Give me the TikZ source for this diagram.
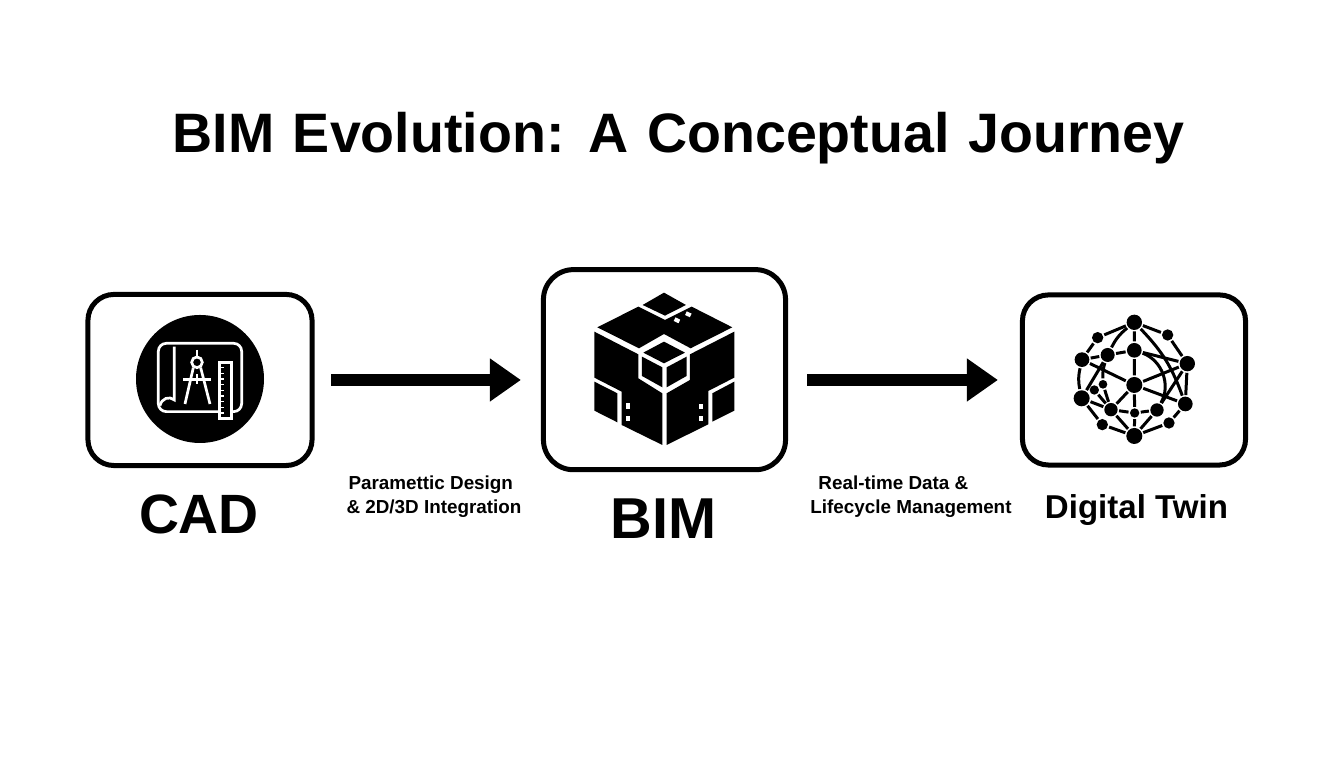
\documentclass[tikz,border=0pt]{standalone}
\usepackage{fontspec}
\setmainfont{Liberation Sans}
\usetikzlibrary{arrows.meta,positioning}
\newcommand{\titlefont}{\bfseries\fontsize{15.8}{18}\selectfont\spaceskip 5.3pt\relax}
\begin{document}
\begin{tikzpicture}[x=0.01cm, y=-0.01cm]
        \tikzstyle{stagebox}=[draw, line width=0.05cm, rounded corners=0.26cm, inner sep=0pt]
        \tikzstyle{flowarrow}=[line width=0.125cm, -{Triangle[length=0.31cm, width=0.41cm]}]
        \tikzstyle{sublabel}=[font=\bfseries\fontsize{5.36}{6.8}\selectfont, align=left, inner sep=0pt]
        \tikzstyle{stagelabel}=[anchor=base, inner sep=0pt]
        \tikzstyle{netnode}=[circle, fill=black, inner sep=0pt, outer sep=0.015cm]
        \tikzstyle{netedge}=[line width=0.03cm]
        \tikzstyle{iconline}=[white, line width=0.027cm]
        \useasboundingbox (0,0) rectangle (1344,768);
        % Title
        \node[stagelabel, font=\titlefont] (title) at (678.5,152.3) {BIM Evolution: A Conceptual Journey};
        % Stages
        \node[stagebox, minimum width=2.24cm, minimum height=1.71cm] (cad) at (200,380) {};
        \node[stagebox, minimum width=2.42cm, minimum height=2.00cm, rounded corners=0.3cm] (bim) at (664.5,369.7) {};
        \node[stagebox, minimum width=2.23cm, minimum height=1.70cm] (twin) at (1134,380) {};
        \node[stagelabel, font=\bfseries\fontsize{15.75}{18}\selectfont] (cadlabel) at (199,533.3) {CAD};
        \node[stagelabel, font=\bfseries\fontsize{16.4}{18}\selectfont] (bimlabel) at (663.5,538.3) {BIM};
        \node[stagelabel, font=\bfseries\fontsize{9.4}{12}\selectfont] (twinlabel) at (1136.5,518.3) {Digital Twin};
        % Arrows
        \draw[flowarrow, shorten <=0.165cm, shorten >=0.2cm] (cad.east) -- (cad.east -| bim.west);
        \draw[flowarrow, shorten <=0.19cm, shorten >=0.22cm] (twin.west -| bim.east) -- (twin.west);
        \node[sublabel] (paramlabel) at (434,497) {\hspace*{0.02cm}Paramettic Design\\\& 2D/3D Integration};
        \node[sublabel] (livelabel) at (911,497) {\hspace*{0.08cm}Real-time Data \&\\Lifecycle Management};
        % CAD icon
        \fill (200,379) circle (64);
        \begin{scope}[shift={(80,285)}, scale=0.3333]
            \draw[iconline, rounded corners=0.08cm] (235,175) rectangle (485,380);
            \draw[iconline] (283,185) -- (283,345) .. controls (268,332) and (245,340) .. (240,362);
            \draw[iconline] (351,232) circle (16);
            \draw[iconline] (351,195) -- (351,215);
            \draw[iconline] (340,248) -- (315,357);
            \draw[iconline] (362,248) -- (390,357);
            \draw[iconline] (310,284) -- (393,284);
            \draw[iconline] (351,268) -- (351,297);
            \draw[iconline, fill=black] (418,232) rectangle (454,400);
            \foreach \y in {248,265,...,384}
                \draw[iconline, line width=0.015cm] (418,\y) -- (432,\y);
        \end{scope}
        % BIM icon
        \begin{scope}[shift={(540,265)}, scale=0.3333]
            \fill (372,83) -- (438,120) -- (375,152) -- (308,120) -- cycle;
            \fill (172,187) -- (295,125) -- (375,165) -- (455,125) -- (577,187) -- (452,250) -- (372,207) -- (297,250) -- cycle;
            \fill (163,200) -- (295,268) -- (295,340) -- (367,385) -- (367,540) -- (245,480) -- (245,380) -- (163,338) -- cycle;
            \fill (163,350) -- (232,385) -- (232,472) -- (163,437) -- cycle;
            \fill (380,385) -- (450,345) -- (450,268) -- (583,200) -- (583,338) -- (505,378) -- (505,478) -- (380,540) -- cycle;
            \fill (517,385) -- (583,350) -- (583,437) -- (517,470) -- cycle;
            \fill (372,230) -- (435,263) -- (372,295) -- (310,263) -- cycle;
            \fill (306,275) -- (367,307) -- (367,367) -- (306,333) -- cycle;
            \fill (380,307) -- (440,275) -- (440,333) -- (380,367) -- cycle;
            \foreach \x/\y in {257/415,257/452,477/417,477/453}
                \fill[white] (\x,\y) rectangle ++(13,16);
            \foreach \x/\y in {411/166,445/148}
                \fill[white, rotate around={-25:(\x,\y)}] (\x-8,\y-6) rectangle (\x+8,\y+6);
        \end{scope}
        % Digital twin icon
        \begin{scope}[shift={(1015,288)}, scale=0.3333]
            \foreach \name/\x/\y/\r in {t/358/103/23, p/248/149/17, q/458/141/17, a/201/215/22, b/278/201/21, c/358/187/22, d/517/227/23, e/358/291/24, f/264/289/13, g/238/306/14, h/200/331/24, i/288/365/20, j/359/375/14, k/426/366/20, l/511/348/22, m/262/410/17, n/462/405/17, o/358/444/24}
                \node[netnode, minimum size=\r*0.00667cm] (\name) at (\x,\y) {};
            \foreach \from/\to in {t/p, p/a, t/q, q/d, t/c, c/e, e/j, j/o, h/m, m/o, o/n, n/l, l/d, a/b, b/c, c/d, a/e, d/e, e/l, e/i, i/j, j/k, k/o, i/o, h/i, g/i, f/i, b/h, d/k}
                \draw[netedge] (\from) -- (\to);
            \draw[netedge] (t) to[bend right=12] (b);
            \draw[netedge] (t) to[bend left=12] (l);
            \draw[netedge] (b) to[bend right=10] (f);
            \draw[netedge] (a) to[bend right=12] (h);
            \draw[netedge] (c) to[bend left=50] (k);
        \end{scope}
\end{tikzpicture}
\end{document}
